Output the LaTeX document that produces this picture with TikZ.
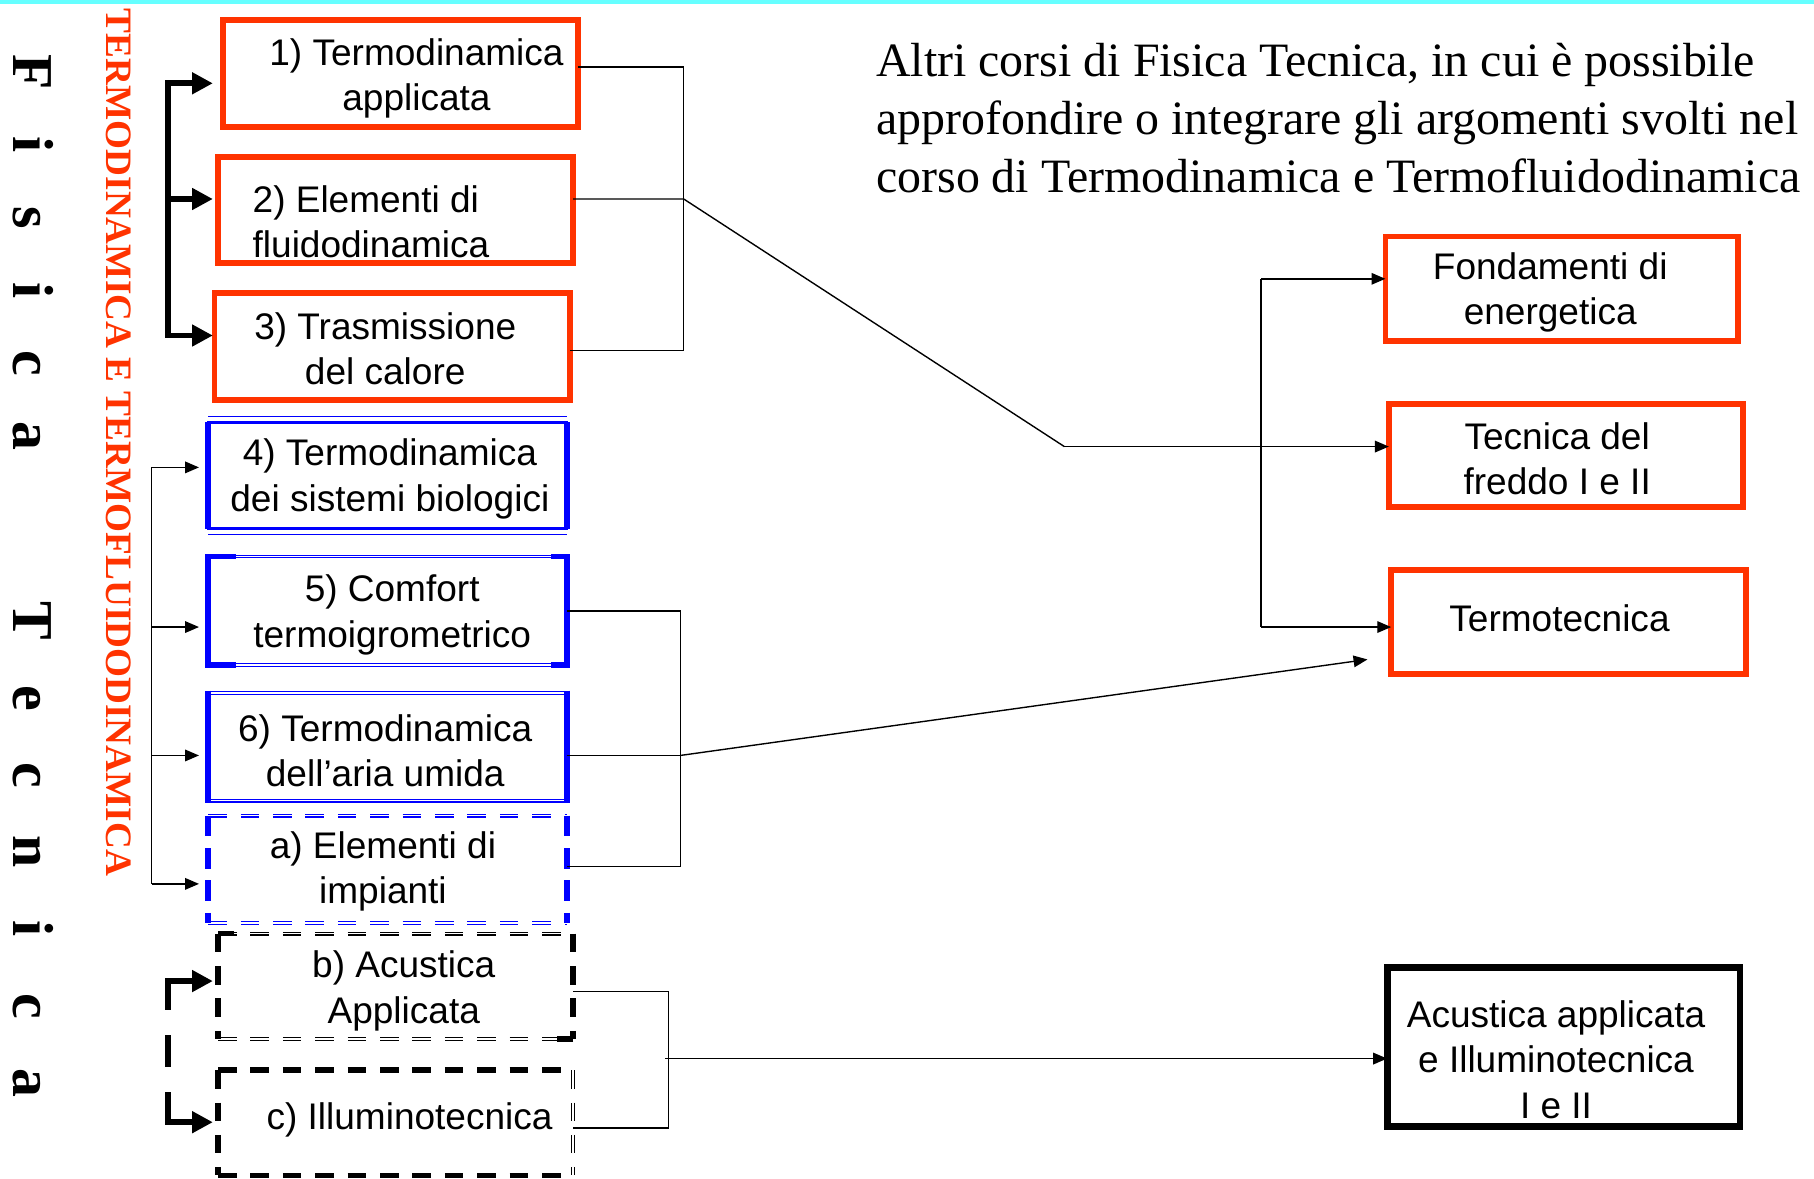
\documentclass[tikz,border=0pt]{standalone}
\usepackage{fontspec}
\setmainfont{Liberation Serif}
\newfontfamily\arialf{Liberation Sans}
\usetikzlibrary{arrows.meta,calc}
\definecolor{ored}{HTML}{FF3300}
\definecolor{cyanbar}{HTML}{66FFFF}
\definecolor{bblue}{HTML}{0000FF}
\newcommand{\lbF}[1]{\makebox[31.5pt]{#1}}
\newcommand{\lbT}[1]{\makebox[33.25pt]{#1}}
\begin{document}
\begin{tikzpicture}[x=0.5pt,y=-0.5pt,
  boxtext/.style={font=\arialf\fontsize{16}{19.5}\selectfont, align=center, inner sep=0pt},
  redbox/.style={draw=ored, line width=2.5pt, inner sep=0pt, outer sep=0pt},
  plainbox/.style={inner sep=0pt, outer sep=0pt},
  conn/.style={line width=0.6pt},
  thinarr/.style={line width=0.6pt, -{Triangle[length=6pt,width=5pt]}},
  thickarr/.style={line width=2.5pt, -{Triangle[length=9pt,width=9pt]}},
  bthick/.style={draw=bblue, line width=2.4pt},
  bdouble/.style={draw=bblue, line width=0.5pt, double, double distance=0.7pt},
  dsh/.style={dash pattern=on 8pt off 6pt},
]
\path[use as bounding box] (0,0) rectangle (1568,1019);
\fill[cyanbar] (0,0) rectangle (1568,3.5);

% vertical titles
\node[rotate=-90, inner sep=0pt, font=\bfseries\fontsize{25}{30}\selectfont] (fisica) at (28.5,219.5)
  {\lbF{F}\lbF{i}\lbF{s}\lbF{i}\lbF{c}\lbF{a}};
\node[rotate=-90, inner sep=0pt, font=\bfseries\fontsize{25}{30}\selectfont] (tecnica) at (28.5,736.5)
  {\lbT{T}\lbT{e}\lbT{c}\lbT{n}\lbT{i}\lbT{c}\lbT{a}};
\node[rotate=-90, inner sep=0pt, text=ored, font=\bfseries\fontsize{16.1}{19}\selectfont] (vtitle) at (102.5,382.5)
  {TERMODINAMICA E TERMOFLUIDODINAMICA};

% intro text
\node[anchor=west, align=left, inner sep=0pt, font=\fontsize{20.7}{25}\selectfont] (intro) at (757,102)
  {Altri corsi di Fisica Tecnica, in cui è possibile\\approfondire o integrare gli argomenti svolti nel\\corso di Termodinamica e Termofluidodinamica};

% red boxes (left)
\node[redbox, minimum width=153.5pt, minimum height=46pt] (b1) at (346,63.5) {};
\node[boxtext] (t1) at (360,67.5) {1) Termodinamica\\applicata};
\node[redbox, minimum width=153.5pt, minimum height=46pt] (b2) at (342,181.5) {};
\node[boxtext, anchor=west, align=left] (t2) at (218,192) {2) Elementi di\\fluidodinamica};
\node[redbox, minimum width=153.5pt, minimum height=46pt] (b3) at (339,299.5) {};
\node[boxtext] (t3) at (333,301.5) {3) Trasmissione\\del calore};

% blue boxes
\node[plainbox, draw=bblue, line width=1.3pt, minimum width=155pt, minimum height=46pt] (b4) at (335,411) {};
\draw[bthick] (b4.north west) -- (b4.south west);
\draw[bthick] (b4.north east) -- (b4.south east);
\draw[bblue, line width=0.6pt] ([yshift=2.6pt]b4.north west) -- ([yshift=2.6pt]b4.north east);
\draw[bblue, line width=0.6pt] ([yshift=-2.6pt]b4.south west) -- ([yshift=-2.6pt]b4.south east);
\node[boxtext] (t4) at (337,414) {4) Termodinamica\\dei sistemi biologici};

\node[plainbox, minimum width=155pt, minimum height=47pt] (b5) at (335,528) {};
\draw[bdouble] (b5.north west) -- (b5.north east);
\draw[bdouble] (b5.south west) -- (b5.south east);
\draw[bthick] ([yshift=1pt]b5.north west) -- ([yshift=-1pt]b5.south west);
\draw[bthick] ([yshift=1pt]b5.north east) -- ([yshift=-1pt]b5.south east);
\draw[bthick] (b5.north west) -- ++(24,0);
\draw[bthick] (b5.south west) -- ++(24,0);
\draw[bthick] (b5.north east) -- ++(-14,0);
\draw[bthick] (b5.south east) -- ++(-14,0);
\node[boxtext] (t5) at (339,531.5) {5) Comfort\\termoigrometrico};

\node[plainbox, minimum width=155pt, minimum height=46.5pt] (b6) at (335,645.5) {};
\draw[bdouble] (b6.north west) -- (b6.north east);
\draw[bdouble] (b6.south west) -- (b6.south east);
\draw[bthick] ([yshift=1pt]b6.north west) -- ([yshift=-1pt]b6.south west);
\draw[bthick] ([yshift=1pt]b6.north east) -- ([yshift=-1pt]b6.south east);
\node[boxtext] (t6) at (333,649) {6) Termodinamica\\dell’aria umida};

\node[plainbox, minimum width=155pt, minimum height=46.5pt] (ba) at (335,751.5) {};
\draw[bdouble, dsh] (ba.north west) -- (ba.north east);
\draw[bdouble, dsh] (ba.south west) -- (ba.south east);
\draw[bthick, dash pattern=on 9pt off 5pt] (ba.north west) -- (ba.south west);
\draw[bthick, dash pattern=on 9pt off 5pt] (ba.north east) -- (ba.south east);
\node[boxtext] (ta) at (331,753.5) {a) Elementi di\\impianti};

% black dashed boxes
\node[plainbox, minimum width=153.5pt, minimum height=45.5pt] (bb) at (342,852.5) {};
\draw[line width=0.5pt, double, double distance=0.7pt, dsh] (bb.north west) -- (bb.north east);
\draw[line width=0.5pt, double, double distance=0.7pt, dsh] (bb.south west) -- (bb.south east);
\draw[line width=2.4pt] (bb.north west) -- ++(14,0);
\draw[line width=2.4pt] (bb.south east) -- ++(-14,0);
\draw[line width=2.4pt, dsh] (bb.north west) -- (bb.south west);
\draw[line width=2.4pt, dsh] (bb.north east) -- (bb.south east);
\node[boxtext] (tb) at (349,856.5) {b) Acustica\\Applicata};

\node[plainbox, minimum width=153.5pt, minimum height=45.5pt] (bc) at (342,970.5) {};
\draw[line width=2.4pt, dsh] (bc.north west) -- (bc.north east);
\draw[line width=2.4pt, dsh] (bc.south west) -- (bc.south east);
\draw[line width=2.4pt, dsh] (bc.north west) -- (bc.south west);
\draw[line width=0.5pt, double, double distance=0.7pt, dsh] (bc.north east) -- (bc.south east);
\node[boxtext] (tc) at (354,968) {c) Illuminotecnica};

% right boxes
\node[redbox, minimum width=152.5pt, minimum height=45pt] (fond) at (1350,249.5) {};
\node[boxtext] (tf) at (1340,253) {Fondamenti di\\energetica};
\node[redbox, minimum width=153pt, minimum height=44.5pt] (tec) at (1353.5,394) {};
\node[boxtext] (tt) at (1346,396.5) {Tecnica del\\freddo I e II};
\node[redbox, minimum width=153.5pt, minimum height=45pt] (term) at (1356,537.5) {};
\node[boxtext] (tm) at (1348,534) {Termotecnica};
\node[plainbox, draw, line width=3pt, minimum width=152.5pt, minimum height=69pt] (acu) at (1351.5,905) {};
\node[boxtext] (tacu) at (1345,916) {Acustica applicata\\e Illuminotecnica\\I e II};

% left brackets
\coordinate (TXa) at (184,0);
\coordinate (TXb) at (172,0);
\coordinate (L1) at (145,72);
\coordinate (L2) at (145,172);
\coordinate (L3) at (145,290);
\draw[line width=2.5pt, {Triangle[length=9pt,width=9pt]}-{Triangle[length=9pt,width=9pt]}]
  (L1 -| TXa) -- (L1) -- (L3) -- (L3 -| TXa);
\draw[thickarr] (L2) -- (L2 -| TXa);

\coordinate (L4) at (131,404);
\coordinate (L5) at (131,542);
\coordinate (L6) at (131,653);
\coordinate (L7) at (131,764);
\draw[conn] (L4) -- (L7);
\draw[thinarr] (L4) -- (L4 -| TXb);
\draw[thinarr] (L5) -- (L5 -| TXb);
\draw[thinarr] (L6) -- (L6 -| TXb);
\draw[thinarr] (L7) -- (L7 -| TXb);

\coordinate (L8) at (145,848);
\coordinate (L8b) at (145,873);
\coordinate (L8c) at (145,895);
\coordinate (L9c) at (145,922);
\coordinate (L9b) at (145,944);
\coordinate (L9) at (145,970);
\draw[line width=2.5pt, {Triangle[length=9pt,width=9pt]}-] (L8 -| TXa) -- (L8) -- (L8b);
\draw[line width=2.5pt] (L8c) -- (L9c);
\draw[line width=2.5pt, -{Triangle[length=9pt,width=9pt]}] (L9b) -- (L9) -- (L9 -| TXa);

% right connectors group 1
\coordinate (R1) at (591,58);
\coordinate (R2) at (591,172);
\coordinate (R3) at (591,303);
\coordinate (J2) at (920,386);
\draw[conn] (R1 -| b1.east) -- (R1) -- (R3) -- (R3 -| b3.east);
\draw[conn] (R2 -| b2.east) -- (R2) -- (J2);
\draw[thinarr] (J2) -- (J2 -| tec.west);

\coordinate (V1) at (1090,241);
\coordinate (V2) at (1090,542);
\draw[conn] (V1) -- (V2);
\draw[thinarr] (V1) -- (V1 -| fond.west);
\draw[thinarr] (V2) -- (V2 -| term.west);

% group 2
\coordinate (R5) at (588,528);
\coordinate (R6) at (588,653);
\coordinate (R7) at (588,749);
\coordinate (K2) at (1182,570);
\draw[conn] (R5 -| b5.east) -- (R5) -- (R7) -- (R7 -| ba.east);
\draw[conn] (R6 -| b6.east) -- (R6);
\draw[thinarr] (R6) -- (K2);

% group 3
\coordinate (R8) at (578,857);
\coordinate (R9) at (578,975);
\coordinate (J3) at (575,915);
\draw[conn] (R8 -| bb.east) -- (R8) -- (R9) -- (R9 -| bc.east);
\draw[thinarr] (J3) -- (J3 -| acu.west);
\end{tikzpicture}
\end{document}
